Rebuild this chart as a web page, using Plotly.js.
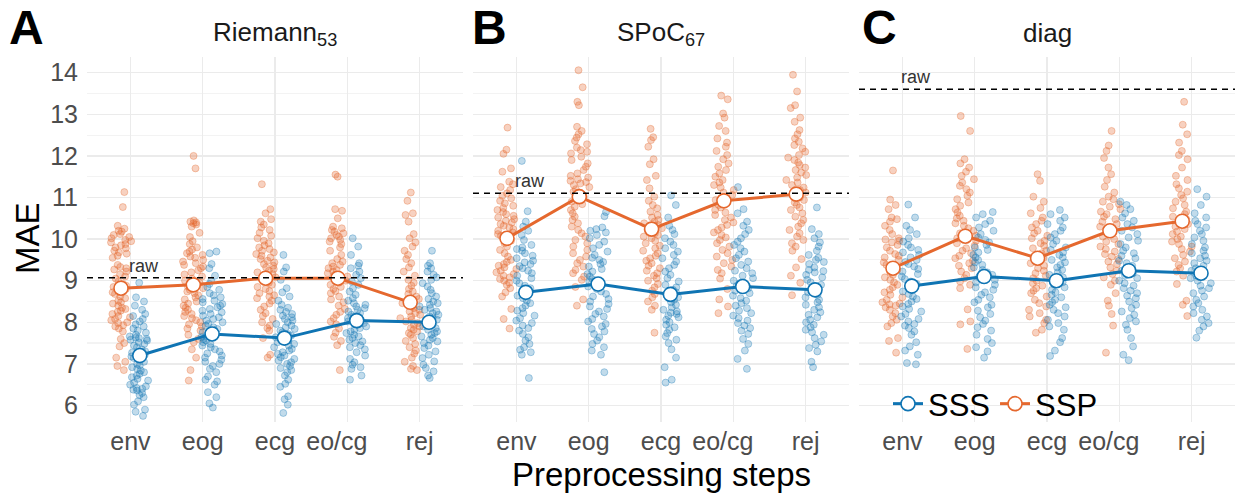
<!DOCTYPE html>
<html>
<head>
<meta charset="utf-8">
<script src="https://cdn.plot.ly/plotly-3.0.1.min.js"></script>
<style>html,body{margin:0;padding:0;background:#fff;}#chart{width:1240px;height:496px;}</style>
</head>
<body>
<div id="chart"></div>
<script>
// ---------------- data ----------------
const categories = ['env', 'eog', 'ecg', 'eo/cg', 'rej'];
const tickLabels = ['env', 'eog', 'ecg', 'eo/cg\u00a0\u00a0\u00a0', 'rej'];
const panelTitles = ['Riemann<sub>53</sub>', 'SPoC<sub>67</sub>', 'diag'];
const panelLetters = ['A', 'B', 'C'];
const rawMAE = [9.07, 11.1, 13.6];

const A_SSP_mean = [8.82, 8.90, 9.06, 9.06, 8.48];
const A_SSS_mean = [7.20, 7.72, 7.62, 8.04, 8.00];
const B_SSP_mean = [10.02, 11.02, 10.24, 10.92, 11.08];
const B_SSS_mean = [8.72, 8.92, 8.67, 8.86, 8.78];
const C_SSP_mean = [9.30, 10.07, 9.54, 10.20, 10.43];
const C_SSS_mean = [8.87, 9.10, 9.00, 9.24, 9.18];

// Panel A: Riemann
const A_SSP_env = [11.13,10.77,10.32,10.25,10.2,10.18,10.12,10.1,10.05,10.02,9.98,9.95,9.92,9.88,9.85,9.8,9.78,9.72,9.68,9.65,9.6,9.55,9.38,9.33,9.3,9.27,9.22,9.15,9.1,9.05,8.98,8.92,8.88,8.85,8.8,8.72,8.68,8.62,8.58,8.52,8.48,8.45,8.4,8.35,8.32,8.28,8.25,8.2,8.15,8.12,8.08,8.05,8.0,7.98,7.93,7.9,7.85,7.78,7.6,7.5,7.42,7.15,7.05,6.95,6.85];
const A_SSS_env = [8.95,8.6,8.5,8.4,8.3,8.2,8.15,8.08,8.02,7.95,7.9,7.85,7.8,7.75,7.7,7.66,7.63,7.62,7.6,7.58,7.56,7.52,7.48,7.44,7.4,7.35,7.3,7.27,7.22,7.18,7.14,7.1,7.05,7.0,6.96,6.92,6.88,6.84,6.8,6.76,6.72,6.68,6.64,6.6,6.55,6.5,6.46,6.42,6.4,6.38,6.36,6.3,6.25,6.2,6.1,6.02,5.9,5.85,5.75];
const A_SSP_eog = [12.0,11.7,10.45,10.42,10.4,10.38,10.35,10.3,10.15,10.05,9.95,9.88,9.8,9.75,9.7,9.66,9.62,9.58,9.55,9.5,9.46,9.42,9.38,9.34,9.3,9.25,9.2,9.15,9.1,9.05,9.0,8.95,8.9,8.86,8.82,8.78,8.74,8.7,8.65,8.6,8.55,8.5,8.45,8.4,8.35,8.3,8.25,8.2,8.15,8.1,8.05,8.0,7.95,7.9,7.85,7.8,7.7,7.6,7.52,7.35,7.15,6.85,6.6];
const A_SSS_eog = [9.7,9.66,9.4,9.3,9.12,9.0,8.92,8.85,8.78,8.7,8.65,8.6,8.56,8.52,8.48,8.44,8.4,8.36,8.32,8.28,8.24,8.2,8.16,8.12,8.08,8.04,8.0,7.96,7.92,7.88,7.84,7.8,7.76,7.72,7.68,7.64,7.6,7.56,7.52,7.48,7.44,7.4,7.35,7.3,7.25,7.2,7.15,7.1,7.05,7.0,6.95,6.88,6.8,6.7,6.62,6.58,6.5,6.32,6.2,6.05,5.95];
const A_SSP_ecg = [11.32,10.72,10.62,10.48,10.42,10.35,10.28,10.22,10.15,10.08,10.02,9.96,9.9,9.85,9.8,9.76,9.72,9.68,9.64,9.6,9.56,9.52,9.48,9.44,9.4,9.36,9.32,9.28,9.24,9.2,9.16,9.12,9.08,9.04,9.0,8.95,8.9,8.85,8.8,8.75,8.7,8.65,8.62,8.58,8.52,8.45,8.38,8.3,8.22,8.15,8.08,8.0,7.92,7.86,7.8,7.62,7.22,7.15];
const A_SSS_ecg = [9.62,9.32,9.22,9.02,8.82,8.72,8.62,8.52,8.42,8.35,8.3,8.25,8.2,8.16,8.12,8.08,8.04,8.0,7.96,7.92,7.88,7.84,7.8,7.76,7.72,7.68,7.64,7.6,7.56,7.52,7.48,7.44,7.4,7.36,7.32,7.28,7.24,7.2,7.16,7.12,7.08,7.04,7.0,6.95,6.9,6.85,6.8,6.72,6.62,6.52,6.45,6.22,6.15,6.02,5.82];
const A_SSP_eocg = [11.55,11.5,10.72,10.68,10.5,10.3,10.26,10.22,10.18,10.14,10.1,10.06,10.02,9.98,9.94,9.88,9.8,9.72,9.62,9.52,9.46,9.42,9.38,9.34,9.3,9.26,9.22,9.18,9.14,9.1,9.05,9.0,8.95,8.9,8.85,8.8,8.75,8.7,8.62,8.55,8.48,8.4,8.32,8.25,8.18,8.1,8.02,7.95,7.85,7.75,7.65,7.55,7.45,6.85];
const A_SSS_eocg = [10.02,9.82,9.62,9.42,9.36,9.3,9.22,9.14,9.06,8.98,8.9,8.82,8.74,8.66,8.58,8.52,8.46,8.42,8.38,8.34,8.3,8.26,8.22,8.18,8.14,8.1,8.06,8.02,7.98,7.94,7.9,7.86,7.82,7.78,7.74,7.7,7.66,7.62,7.58,7.54,7.5,7.45,7.4,7.35,7.28,7.2,7.12,7.04,6.98,6.92,6.88,6.72,6.62];
const A_SSP_rej = [11.12,10.92,10.62,10.58,10.42,10.12,10.02,9.92,9.82,9.72,9.62,9.52,9.42,9.32,9.22,9.12,9.02,8.95,8.88,8.8,8.74,8.68,8.62,8.56,8.5,8.46,8.42,8.38,8.34,8.3,8.26,8.22,8.18,8.14,8.1,8.06,8.02,7.98,7.94,7.9,7.86,7.82,7.78,7.74,7.7,7.62,7.55,7.48,7.4,7.32,7.25,7.15,7.05,6.95,6.88,6.85];
const A_SSS_rej = [9.72,9.42,9.36,9.3,9.22,9.14,9.08,9.02,8.94,8.86,8.78,8.7,8.62,8.56,8.5,8.46,8.42,8.38,8.34,8.3,8.26,8.22,8.18,8.14,8.1,8.06,8.02,7.98,7.94,7.9,7.86,7.82,7.78,7.74,7.7,7.66,7.62,7.58,7.54,7.5,7.44,7.38,7.3,7.22,7.14,7.06,6.98,6.9,6.82,6.72,6.66];

// Panel B: SPoC
const B_SSP_env = [12.68,12.15,12.05,11.7,11.62,11.38,11.32,11.25,11.18,11.1,11.04,10.98,10.92,10.86,10.8,10.75,10.7,10.65,10.6,10.56,10.52,10.48,10.44,10.4,10.36,10.32,10.28,10.24,10.2,10.16,10.12,10.08,10.02,9.96,9.9,9.82,9.74,9.66,9.58,9.5,9.45,9.4,9.36,9.32,9.28,9.24,9.2,9.16,9.12,9.08,9.04,9.0,8.95,8.9,8.82,8.72,8.62,8.32,8.08,7.85];
const B_SSS_env = [11.88,10.67,10.42,10.3,10.2,10.1,9.98,9.86,9.8,9.76,9.72,9.66,9.6,9.54,9.48,9.44,9.4,9.35,9.3,9.24,9.18,9.12,9.06,9.0,8.94,8.88,8.82,8.76,8.7,8.64,8.58,8.52,8.46,8.4,8.34,8.28,8.22,8.16,8.1,8.04,7.98,7.92,7.86,7.8,7.72,7.64,7.56,7.48,7.4,7.34,7.28,7.22,6.66];
const B_SSP_eog = [14.06,13.65,13.3,13.22,12.7,12.6,12.52,12.44,12.36,12.28,12.2,12.14,12.1,12.06,11.98,11.9,11.82,11.74,11.66,11.58,11.52,11.48,11.44,11.4,11.37,11.34,11.3,11.25,11.2,11.14,11.08,11.02,10.96,10.9,10.84,10.78,10.7,10.62,10.54,10.46,10.38,10.3,10.22,10.14,10.06,9.98,9.9,9.82,9.74,9.66,9.58,9.5,9.42,9.34,9.26,9.18,9.1,9.02,8.85,8.55,8.4];
const B_SSS_eog = [10.65,10.55,10.28,10.24,10.2,10.16,10.1,10.02,9.94,9.86,9.78,9.7,9.62,9.55,9.5,9.45,9.4,9.34,9.28,9.22,9.16,9.1,9.04,8.98,8.92,8.86,8.8,8.74,8.68,8.62,8.56,8.5,8.44,8.38,8.32,8.26,8.2,8.14,8.08,8.02,7.96,7.9,7.84,7.78,7.72,7.64,7.56,7.48,7.4,7.32,7.22,6.8];
const B_SSP_ecg = [12.65,12.45,12.38,12.22,11.92,11.8,11.52,11.42,11.22,11.02,10.92,10.82,10.74,10.66,10.58,10.52,10.46,10.42,10.38,10.34,10.3,10.26,10.22,10.18,10.14,10.1,10.06,10.02,9.96,9.9,9.84,9.78,9.72,9.66,9.6,9.54,9.48,9.42,9.36,9.3,9.24,9.18,9.12,9.06,9.0,8.92,8.84,8.76,8.68,8.6,8.5,8.4,8.3,7.75];
const B_SSS_ecg = [11.05,10.82,10.52,10.32,10.22,10.12,10.02,9.94,9.86,9.78,9.7,9.62,9.54,9.46,9.38,9.3,9.22,9.14,9.06,8.98,8.9,8.84,8.78,8.72,8.66,8.6,8.54,8.48,8.42,8.36,8.3,8.26,8.23,8.2,8.16,8.12,8.06,8.0,7.94,7.88,7.82,7.74,7.66,7.58,7.5,7.35,7.15,6.92,6.62,6.55];
const B_SSP_eocg = [13.45,13.36,13.02,12.92,12.72,12.6,12.42,12.32,12.22,12.12,12.02,11.92,11.82,11.74,11.66,11.58,11.5,11.42,11.36,11.3,11.24,11.18,11.12,11.06,11.0,10.94,10.88,10.82,10.76,10.7,10.64,10.58,10.52,10.46,10.4,10.34,10.28,10.22,10.16,10.1,10.04,9.98,9.9,9.82,9.74,9.66,9.58,9.5,9.42,9.34,9.26,9.18,9.05,8.8,8.55,8.38,8.22];
const B_SSS_eocg = [11.25,10.72,10.62,10.42,10.32,10.22,10.12,10.02,9.94,9.86,9.78,9.7,9.62,9.54,9.46,9.38,9.3,9.24,9.18,9.12,9.06,9.0,8.94,8.88,8.82,8.76,8.7,8.64,8.58,8.52,8.46,8.4,8.34,8.28,8.22,8.16,8.1,8.04,7.98,7.92,7.86,7.8,7.72,7.6,7.48,7.32,7.12,6.88];
const B_SSP_rej = [13.95,13.55,13.22,13.15,12.92,12.82,12.62,12.52,12.42,12.34,12.26,12.18,12.1,12.02,11.96,11.9,11.84,11.78,11.72,11.66,11.6,11.54,11.48,11.42,11.36,11.3,11.24,11.18,11.12,11.06,11.0,10.94,10.88,10.82,10.76,10.7,10.62,10.54,10.46,10.38,10.3,10.22,10.14,10.06,9.98,9.9,9.82,9.72,9.52,9.32,9.12,8.95,8.65];
const B_SSS_rej = [10.76,10.24,10.12,10.02,9.92,9.82,9.72,9.62,9.55,9.5,9.45,9.4,9.32,9.26,9.23,9.2,9.14,9.08,9.02,8.96,8.9,8.84,8.78,8.72,8.66,8.6,8.54,8.48,8.42,8.36,8.3,8.24,8.18,8.12,8.06,8.0,7.94,7.88,7.82,7.76,7.7,7.62,7.54,7.46,7.38,7.3,7.05,6.92];

// Panel C: diag
const C_SSP_env = [11.65,10.95,10.82,10.72,10.52,10.48,10.42,10.32,10.22,10.12,10.02,9.99,9.96,9.92,9.86,9.8,9.72,9.64,9.6,9.56,9.5,9.44,9.38,9.32,9.26,9.2,9.14,9.08,9.02,8.96,8.9,8.84,8.78,8.72,8.66,8.6,8.54,8.48,8.45,8.43,8.4,8.36,8.3,8.22,8.14,8.06,7.98,7.9,7.62,7.55,7.27];
const C_SSS_env = [10.83,10.52,10.32,10.22,10.12,10.02,9.94,9.86,9.8,9.74,9.68,9.62,9.56,9.5,9.45,9.4,9.34,9.28,9.22,9.16,9.1,9.04,8.98,8.92,8.86,8.8,8.74,8.68,8.62,8.56,8.5,8.44,8.38,8.32,8.26,8.2,8.14,8.08,8.02,7.96,7.92,7.86,7.78,7.7,7.52,7.42,7.32,7.22,7.02,6.99];
const C_SSP_eog = [12.96,12.6,11.92,11.82,11.72,11.62,11.52,11.44,11.36,11.28,11.2,11.12,11.04,10.96,10.88,10.8,10.72,10.64,10.56,10.5,10.44,10.38,10.32,10.26,10.2,10.14,10.08,10.02,9.96,9.9,9.84,9.78,9.72,9.66,9.6,9.54,9.48,9.42,9.36,9.3,9.22,9.14,9.06,8.98,8.9,8.82,8.31,8.02,7.95,7.36];
const C_SSS_eog = [10.65,10.6,10.52,10.44,10.36,10.28,10.2,10.12,10.04,9.98,9.92,9.86,9.8,9.74,9.68,9.62,9.56,9.5,9.44,9.38,9.32,9.26,9.2,9.14,9.08,9.02,8.96,8.9,8.84,8.78,8.72,8.66,8.6,8.54,8.48,8.42,8.36,8.28,8.2,8.12,8.04,7.96,7.88,7.8,7.7,7.6,7.5,7.4,7.3,7.15];
const C_SSP_ecg = [11.56,11.4,11.02,10.9,10.75,10.62,10.52,10.44,10.36,10.28,10.2,10.14,10.08,10.02,9.96,9.9,9.84,9.78,9.72,9.66,9.6,9.54,9.48,9.42,9.36,9.3,9.24,9.18,9.12,9.06,9.0,8.94,8.88,8.82,8.76,8.7,8.62,8.54,8.46,8.38,8.3,8.22,8.14,8.06,7.98,7.82,7.75];
const C_SSS_ecg = [10.7,10.6,10.52,10.44,10.36,10.28,10.2,10.12,10.04,9.96,9.88,9.8,9.74,9.68,9.62,9.56,9.5,9.44,9.38,9.32,9.26,9.2,9.14,9.08,9.02,8.96,8.9,8.84,8.78,8.72,8.66,8.6,8.54,8.48,8.42,8.36,8.3,8.22,8.14,8.06,7.98,7.9,7.82,7.62,7.52,7.32,7.19];
const C_SSP_eocg = [12.6,12.25,12.12,11.95,11.72,11.56,11.42,11.26,11.12,11.02,10.96,10.9,10.84,10.78,10.72,10.66,10.6,10.54,10.48,10.42,10.36,10.3,10.24,10.18,10.12,10.06,10.0,9.94,9.88,9.82,9.76,9.7,9.64,9.58,9.52,9.46,9.4,9.32,9.24,9.16,9.08,9.0,8.9,8.7,8.52,8.4,8.2,7.92,7.27];
const C_SSS_eocg = [10.9,10.82,10.72,10.62,10.52,10.44,10.36,10.28,10.2,10.12,10.04,9.96,9.88,9.8,9.72,9.66,9.6,9.54,9.48,9.42,9.36,9.3,9.24,9.18,9.12,9.06,9.0,8.94,8.88,8.82,8.76,8.7,8.64,8.58,8.5,8.42,8.34,8.26,8.18,8.1,8.02,7.94,7.82,7.62,7.42,7.22,7.09];
const C_SSP_rej = [13.3,12.75,12.52,12.32,12.12,12.02,11.92,11.72,11.52,11.42,11.32,11.22,11.14,11.06,10.98,10.9,10.82,10.74,10.66,10.6,10.54,10.48,10.42,10.36,10.3,10.24,10.18,10.12,10.06,10.0,9.94,9.88,9.82,9.76,9.7,9.62,9.54,9.46,9.38,9.3,9.22,9.12,8.92,8.52,8.42,8.15];
const C_SSS_rej = [11.2,11.02,10.82,10.62,10.52,10.44,10.36,10.28,10.2,10.12,10.04,9.96,9.88,9.8,9.72,9.66,9.6,9.54,9.48,9.42,9.36,9.3,9.24,9.18,9.12,9.06,9.0,8.94,8.88,8.82,8.76,8.7,8.62,8.54,8.46,8.38,8.3,8.22,8.14,8.06,7.98,7.9,7.8,7.63];

// ---------------- assembly ----------------
const panels = [
  {SSP: [A_SSP_env, A_SSP_eog, A_SSP_ecg, A_SSP_eocg, A_SSP_rej], SSS: [A_SSS_env, A_SSS_eog, A_SSS_ecg, A_SSS_eocg, A_SSS_rej], mSSP: A_SSP_mean, mSSS: A_SSS_mean},
  {SSP: [B_SSP_env, B_SSP_eog, B_SSP_ecg, B_SSP_eocg, B_SSP_rej], SSS: [B_SSS_env, B_SSS_eog, B_SSS_ecg, B_SSS_eocg, B_SSS_rej], mSSP: B_SSP_mean, mSSS: B_SSS_mean},
  {SSP: [C_SSP_env, C_SSP_eog, C_SSP_ecg, C_SSP_eocg, C_SSP_rej], SSS: [C_SSS_env, C_SSS_eog, C_SSS_ecg, C_SSS_eocg, C_SSS_rej], mSSP: C_SSP_mean, mSSS: C_SSS_mean}
];

const COL = {SSP: '#E5682E', SSS: '#0F74B3'};
const PT = {
  SSP: {fill: 'rgba(229,104,46,0.30)', edge: 'rgba(229,104,46,0.42)'},
  SSS: {fill: 'rgba(15,116,179,0.26)', edge: 'rgba(15,116,179,0.40)'}
};
const OFF = {SSP: -0.13, SSS: 0.13};
const FONT = 'Liberation Sans, Arial, Helvetica, sans-serif';

const W = 1240, H = 496;
const xDomains = [[87 / W, 463 / W], [473 / W, 849 / W], [859 / W, 1235 / W]];
const yDomain = [1 - 421.7 / H, 1 - 56.7 / H];
const yRange = [5.61, 14.385];
const xRange = [0.4, 5.6];

const traces = [];
const ordered = ['SSP', 'SSS'];
panels.forEach((p, k) => {
  const xa = k === 0 ? 'x' : 'x' + (k + 1);
  const ya = k === 0 ? 'y' : 'y' + (k + 1);
  ordered.forEach(m => {
    const xs = [], ys = [];
    p[m].forEach((vals, i) => {
      vals.forEach(v => { xs.push(i + 1 + OFF[m]); ys.push(v); });
    });
    traces.push({
      type: 'box', x: xs, y: ys, xaxis: xa, yaxis: ya,
      boxpoints: 'all', jitter: 1, pointpos: 0, width: 0.3,
      fillcolor: 'rgba(0,0,0,0)', line: {width: 0, color: 'rgba(0,0,0,0)'},
      marker: {size: 7, color: PT[m].fill, line: {width: 0.8, color: PT[m].edge}},
      showlegend: false, hoverinfo: 'y'
    });
  });
});
panels.forEach((p, k) => {
  const xa = k === 0 ? 'x' : 'x' + (k + 1);
  const ya = k === 0 ? 'y' : 'y' + (k + 1);
  ['SSS', 'SSP'].forEach(m => {
    traces.push({
      type: 'scatter', mode: 'lines+markers', name: m,
      x: categories.map((c, i) => i + 1 + OFF[m]),
      y: m === 'SSP' ? p.mSSP : p.mSSS,
      xaxis: xa, yaxis: ya,
      line: {color: COL[m], width: 3},
      marker: {size: 14, color: '#FFFFFF', line: {color: COL[m], width: 1.6}},
      showlegend: k === 2, legendrank: m === 'SSS' ? 1 : 2
    });
  });
});

const layout = {
  width: W, height: H,
  margin: {l: 0, r: 0, t: 0, b: 0},
  paper_bgcolor: '#FFFFFF', plot_bgcolor: '#FFFFFF',
  font: {family: FONT, color: '#000'},
  showlegend: true,
  legend: {
    orientation: 'h', x: 888 / W, xanchor: 'left', y: 1 - 404 / H, yanchor: 'middle',
    font: {size: 31, color: '#000', family: FONT}, bgcolor: 'rgba(0,0,0,0)',
    itemwidth: 30, tracegroupgap: 0
  },
  shapes: [], annotations: []
};

for (let k = 0; k < 3; k++) {
  const sfx = k === 0 ? '' : String(k + 1);
  layout['xaxis' + sfx] = {
    domain: xDomains[k], range: xRange, anchor: 'y' + sfx,
    tickmode: 'array', tickvals: categories.map((c, i) => i + 1), ticktext: tickLabels,
    showgrid: true, gridcolor: '#EBEBEB', gridwidth: 1.5, zeroline: false, showline: false,
    ticks: '', tickfont: {size: 25, color: '#4D4D4D', family: FONT}, ticklabelstandoff: 2,
    fixedrange: true
  };
  layout['yaxis' + sfx] = {
    domain: yDomain, range: yRange, anchor: 'x' + sfx,
    tick0: 0, dtick: 1, showgrid: true, gridcolor: '#EBEBEB', gridwidth: 1.5,
    minor: {tick0: 0.5, dtick: 1, showgrid: true, gridcolor: '#F3F3F3', gridwidth: 1.2},
    zeroline: false, showline: false, ticks: '',
    showticklabels: k === 0,
    tickfont: {size: 25, color: '#4D4D4D', family: FONT}, ticklabelstandoff: 8,
    fixedrange: true
  };
  layout.shapes.push({
    type: 'line', xref: 'x' + sfx + ' domain', yref: 'y' + sfx,
    x0: 0, x1: 1, y0: rawMAE[k], y1: rawMAE[k],
    line: {color: '#000', width: 1.5, dash: '6px,5px'}, layer: 'above'
  });
  layout.annotations.push({
    xref: 'x' + sfx, yref: 'y' + sfx, x: 1, y: rawMAE[k],
    xanchor: 'left', yanchor: 'bottom', yshift: 0, xshift: -3, showarrow: false,
    text: 'raw', font: {size: 18, color: '#333', family: FONT}
  });
  const cx = (xDomains[k][0] + xDomains[k][1]) / 2;
  layout.annotations.push({
    xref: 'paper', yref: 'paper', x: cx, y: 1 - 33 / H,
    xanchor: 'center', yanchor: 'middle', showarrow: false,
    text: panelTitles[k], font: {size: 26, color: '#1A1A1A', family: FONT}
  });
  const lx = [7, 470, 860][k];
  layout.annotations.push({
    xref: 'paper', yref: 'paper', x: lx / W, y: 1 - 27 / H,
    xanchor: 'left', yanchor: 'middle', showarrow: false,
    text: '<b>' + panelLetters[k] + '</b>', font: {size: 48, color: '#000', family: FONT}
  });
}
layout.annotations.push({
  xref: 'paper', yref: 'paper', x: 661 / W, y: 1 - 474 / H,
  xanchor: 'center', yanchor: 'middle', showarrow: false,
  text: 'Preprocessing steps', font: {size: 33, color: '#000', family: FONT}
});
layout.annotations.push({
  xref: 'paper', yref: 'paper', x: 27 / W, y: 1 - 238 / H,
  xanchor: 'center', yanchor: 'middle', showarrow: false, textangle: -90,
  text: 'MAE', font: {size: 33, color: '#000', family: FONT}
});

Plotly.newPlot('chart', traces, layout, {staticPlot: true, displayModeBar: false});
</script>
</body>
</html>
